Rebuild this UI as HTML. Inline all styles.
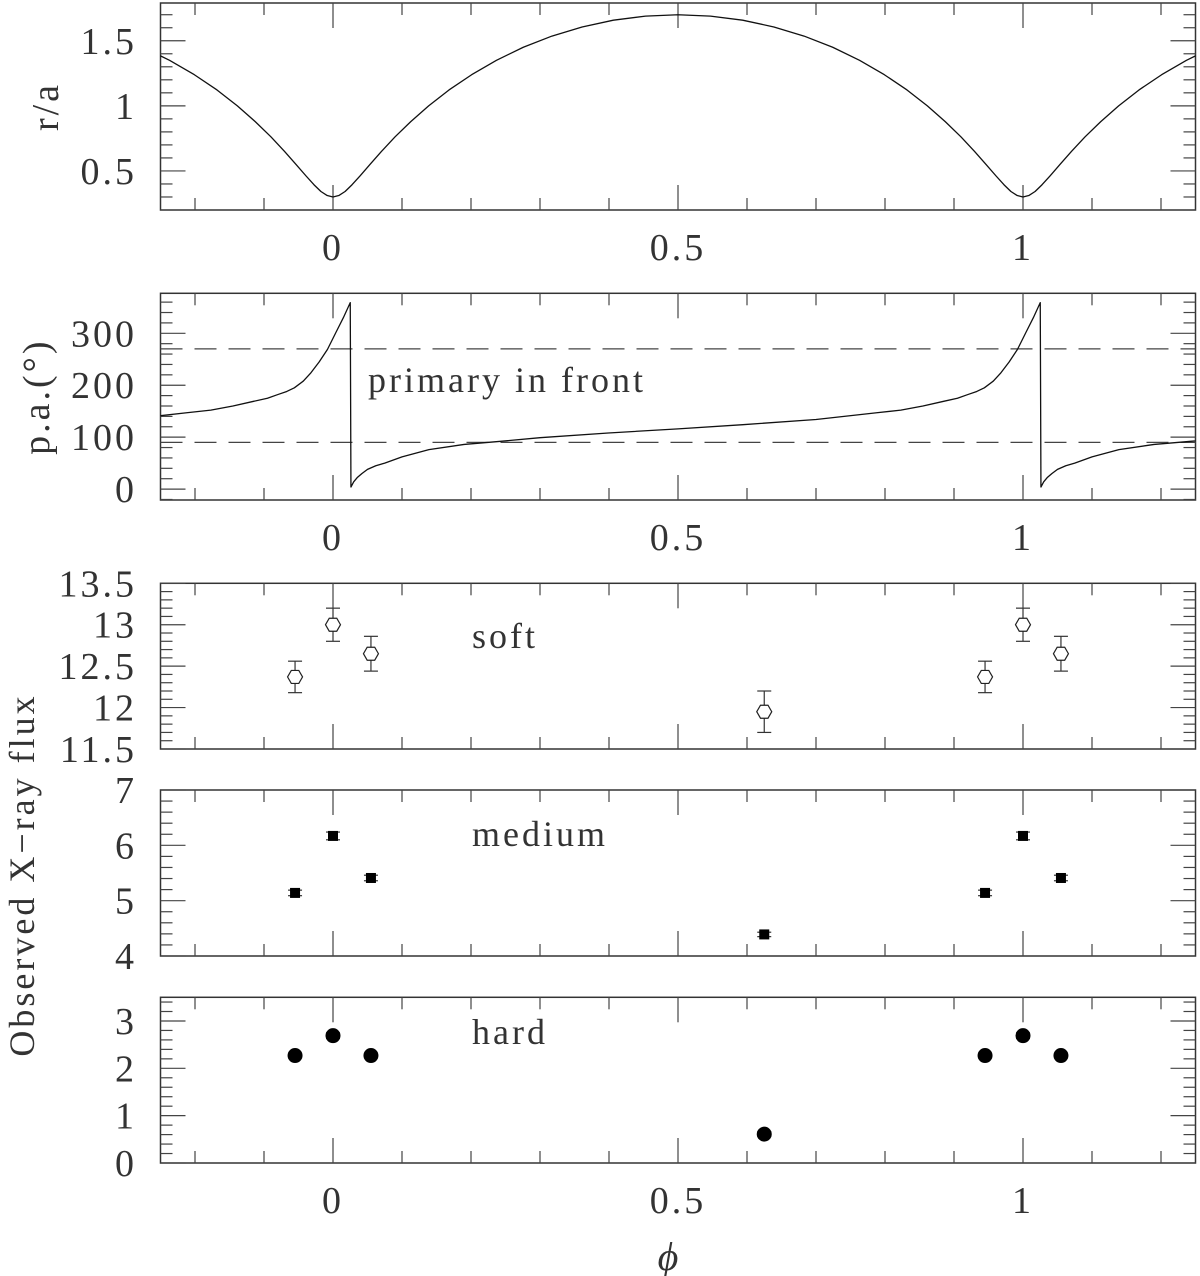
<!DOCTYPE html>
<html><head><meta charset="utf-8"><style>
html,body{margin:0;padding:0;background:#fff}
svg{display:block}
text{font-family:"Liberation Serif",serif;fill:#333}
</style></head><body>
<svg id="chart" width="1200" height="1276" viewBox="0 0 1200 1276" xmlns="http://www.w3.org/2000/svg">
<defs><clipPath id="clipP1"><rect x="160.5" y="3" width="1035" height="207"/></clipPath>
<clipPath id="clipP2"><rect x="160.5" y="293.3" width="1035" height="206.7"/></clipPath></defs>
<g id="root"></g>
</svg>
<script>
// ---- data ----
const rPhase = [0,0.0084,0.0175,0.0276,0.0395,0.0536,0.0702,0.0898,0.1125,0.1386,0.1681,0.2009,0.2369,0.2758,0.3173,0.3610,0.4063,0.4529,0.5];
const rVal   = [0.3,0.311,0.342,0.394,0.464,0.55,0.65,0.761,0.878,1.0,1.122,1.239,1.35,1.45,1.536,1.606,1.658,1.689,1.7];
const paPhase = [0.026,0.03,0.035,0.042,0.05,0.062,0.075,0.1,0.139,0.19,0.243,0.3,0.399,0.5,0.594,0.7,0.788,0.823,0.855,0.885,0.905,0.92,0.933,0.944,0.957,0.968,0.98,0.992,1.004,1.015,1.025];
const paVal   = [4,14,22,30,38,45,50,62,76,86,92,99,108,116,124,134,147,152,160,169,175,182,188,195,208,224,245,269,301,330,359];
const paRefLines = [90,270];
const obsPhase = [-0.055,0,0.055,0.625,0.945,1.0,1.055];
const softVal = [12.37,13.0,12.65,11.95,12.37,13.0,12.65];
const softErr = [0.19,0.2,0.21,0.25,0.19,0.2,0.21];
const medVal  = [5.14,6.17,5.41,4.39,5.14,6.17,5.41];
const medErr  = [0.05,0.07,0.05,0.04,0.05,0.07,0.05];
const hardVal = [2.27,2.69,2.27,0.61,2.27,2.69,2.27];
const hardErr = [0.05,0.06,0.05,0.05,0.05,0.06,0.05];
const xTickLabels = ["0","0.5","1"];
const xTickVals = [0,0.5,1];
const p1Ticks = ["0.5","1","1.5"];
const p2Ticks = ["0","100","200","300"];
const p3Ticks = ["11.5","12","12.5","13","13.5"];
const p4Ticks = ["4","5","6","7"];
const p5Ticks = ["0","1","2","3"];

const NS="http://www.w3.org/2000/svg";
const root=document.getElementById('root');
function mk(tag,attrs,parent){const e=document.createElementNS(NS,tag);for(const k in attrs)e.setAttribute(k,attrs[k]);(parent||root).appendChild(e);return e;}
const X0=160.5,X1=1195.5,PMIN=-0.25,PMAX=1.25;
function xs(p){return X0+(p-PMIN)/(PMAX-PMIN)*(X1-X0);}
const panels=[
 {name:'r-over-a',top:3,bot:210,min:0.2,max:1.79,minor:0.1,major:0.5,labels:p1Ticks,title:'r/a',tx:45,xlab:true},
 {name:'position-angle',top:293.3,bot:500,min:-21,max:377,minor:20,major:100,labels:p2Ticks,title:'p.a.(°)',tx:36,xlab:true},
 {name:'soft-flux',top:583.3,bot:749,min:11.5,max:13.5,minor:0.1,major:0.5,labels:p3Ticks,xlab:false,ly:648},
 {name:'medium-flux',top:790,bot:956,min:4,max:7,minor:0.2,major:1,labels:p4Ticks,xlab:false,ly:846},
 {name:'hard-flux',top:997.3,bot:1163,min:0,max:3.5,minor:0.2,major:1,labels:p5Ticks,xlab:true,ly:1044}
];
function ysF(P){return v=>P.bot-(v-P.min)/(P.max-P.min)*(P.bot-P.top);}
panels.forEach((P,i)=>{
 const g=mk('g',{});
 
 
 const ys=ysF(P);
 const fr=mk('rect',{x:X0,y:P.top,width:X1-X0,height:P.bot-P.top,fill:'none',stroke:'#333','stroke-width':1.5},g);
 
 
 const start=Math.ceil(P.min/P.minor-1e-6);
 for(let k=start;k*P.minor<=P.max+1e-6;k++){
  const v=k*P.minor;const y=ys(v);
  const isMaj=Math.abs(v/P.major-Math.round(v/P.major))<1e-6;
  const L=isMaj?25:12;
  mk('line',{x1:X0,x2:X0+L,y1:y,y2:y,stroke:'#444','stroke-width':1.2},g);
  mk('line',{x1:X1-L,x2:X1,y1:y,y2:y,stroke:'#444','stroke-width':1.2},g);
 }
 P.labels.forEach(s=>{
  const t=mk('text',{x:137,y:ys(parseFloat(s))+13,'font-size':38,'text-anchor':'end','letter-spacing':3},g);
  t.textContent=s;
  
  
 });
 for(let k=-2;k<=12;k++){
  const p=k/10;const x=xs(p);
  const L=(k===0||k===5||k===10)?25:12;
  mk('line',{x1:x,x2:x,y1:P.top,y2:P.top+L,stroke:'#444','stroke-width':1.2},g);
  mk('line',{x1:x,x2:x,y1:P.bot-L,y2:P.bot,stroke:'#444','stroke-width':1.2},g);
 }
 if(P.xlab){xTickVals.forEach((p,j)=>{
  const t=mk('text',{x:xs(p),y:P.bot+50,'font-size':38,'text-anchor':'middle','letter-spacing':3},g);
  t.textContent=xTickLabels[j];
  
  
 });}
 if(P.title){
  const cy=(P.top+P.bot)/2;
  const t=mk('text',{x:P.tx,y:cy,'font-size':38,'text-anchor':'middle','letter-spacing':3,transform:`rotate(-90 ${P.tx} ${cy}) translate(0 13)`},g);
  t.textContent=P.title;
  
  
 }
 P.ys=ys;
});
(function(){const ys=panels[0].ys;let pts=[];
 for(let k=-1;k<=1;k++){
  for(let i=0;i<rPhase.length;i++)pts.push([rPhase[i]+k,rVal[i]]);
  for(let i=rPhase.length-2;i>0;i--)pts.push([1-rPhase[i]+k,rVal[i]]);
 }
 const d=pts.map((q,i)=>(i?'L':'M')+xs(q[0]).toFixed(2)+' '+ys(q[1]).toFixed(2)).join(' ');
 const p=mk('path',{d:d,fill:'none',stroke:'#111','stroke-width':1.3,'clip-path':'url(#clipP1)','stroke-linejoin':'round'});
 
 
})();
(function(){const ys=panels[1].ys;
 paRefLines.forEach(v=>{const l=mk('line',{x1:X0,x2:X1,y1:ys(v),y2:ys(v),stroke:'#444','stroke-width':1.2,'stroke-dasharray':'22 12'});
  
  });
 let pts=[];
 for(let k=-1;k<=1;k++)for(let i=0;i<paPhase.length;i++)pts.push([paPhase[i]+k,paVal[i]]);
 const d=pts.map((q,i)=>(i?'L':'M')+xs(q[0]).toFixed(2)+' '+ys(q[1]).toFixed(2)).join(' ');
 const p=mk('path',{d:d,fill:'none',stroke:'#111','stroke-width':1.3,'clip-path':'url(#clipP2)','stroke-linejoin':'round'});
 
 
 const t=mk('text',{x:368,y:392,'font-size':36,'letter-spacing':3});
 t.textContent='primary in front';
 
 
})();
function errbar(x,y1,y2){
 mk('line',{x1:x,x2:x,y1:y1,y2:y2,stroke:'#333','stroke-width':1.2});
 mk('line',{x1:x-7,x2:x+7,y1:y1,y2:y1,stroke:'#333','stroke-width':1.2});
 mk('line',{x1:x-7,x2:x+7,y1:y2,y2:y2,stroke:'#333','stroke-width':1.2});
}
[[2,softVal,softErr,'soft'],[3,medVal,medErr,'medium'],[4,hardVal,hardErr,'hard']].forEach(([pi,vals,errs,name])=>{
 const P=panels[pi],ys=P.ys;
 obsPhase.forEach((ph,i)=>{
  const x=xs(ph),y=ys(vals[i]);
  errbar(x,ys(vals[i]+errs[i]),ys(vals[i]-errs[i]));
  let m;
  if(name==='soft'){
   const r=7.5,h=6.5;
   m=mk('polygon',{points:`${x-r},${y} ${x-r/2},${y-h} ${x+r/2},${y-h} ${x+r},${y} ${x+r/2},${y+h} ${x-r/2},${y+h}`,fill:'#fff',stroke:'#222','stroke-width':1.2});
  }else if(name==='medium'){
   m=mk('rect',{x:x-5,y:y-5,width:10,height:10,fill:'#000'});
  }else{
   m=mk('circle',{cx:x,cy:y,r:7.5,fill:'#000'});
  }
  
  
 });
 const t=mk('text',{x:472,y:P.ly,'font-size':36,'letter-spacing':3});
 t.textContent=name;
 
 
});
const yt=mk('text',{x:22,y:875,'font-size':36,'text-anchor':'middle','letter-spacing':3,transform:'rotate(-90 22 875) translate(0 12)'});
yt.textContent='Observed X\u2212ray flux';


const xt=mk('text',{x:668,y:1270,'font-size':40,'text-anchor':'middle','font-style':'italic'});
xt.textContent='\u03d5';


</script>
</body></html>
